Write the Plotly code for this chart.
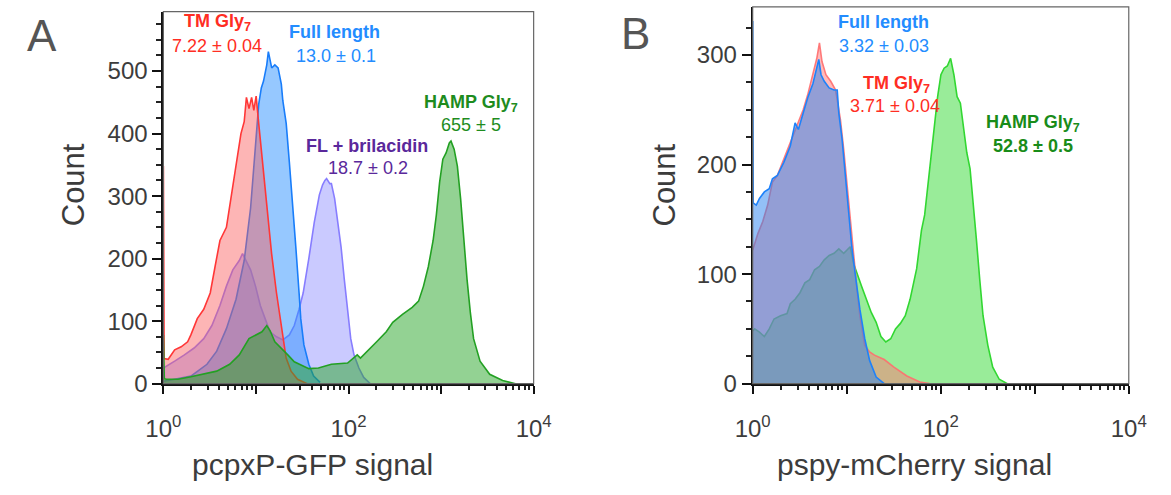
import numpy as np
import plotly.graph_objects as go

W, H = 1171, 495

# ---------------- Panel A (pcpxP-GFP) : log10(signal) and counts ----------------
a_red_log = [0.0, 0.008, 0.052, 0.122, 0.192, 0.262, 0.297, 0.366, 0.436, 0.506, 0.558, 0.611, 0.681,
             0.733, 0.785, 0.838, 0.873, 0.897, 0.925, 0.953, 0.977, 1.002, 1.030, 1.065, 1.117, 1.169,
             1.222, 1.274, 1.326, 1.379, 1.449, 1.553]
a_red_cnt = [348, 40, 39, 54, 59, 67, 78, 104, 119, 145, 187, 229, 250, 302, 354, 400, 419, 458, 440,
             458, 437, 460, 416, 364, 286, 208, 145, 93, 41, 20, 7, 0]

a_blue_log = [0.0, 0.052, 0.297, 0.471, 0.576, 0.681, 0.785, 0.873, 0.942, 0.995, 1.030, 1.058, 1.082,
              1.117, 1.134, 1.170, 1.204, 1.239, 1.274, 1.290, 1.327, 1.361, 1.396, 1.431, 1.466, 1.484,
              1.518, 1.571, 1.623, 1.693]
a_blue_cnt = [4, 5, 12, 31, 52, 88, 135, 197, 281, 375, 447, 473, 484, 510, 531, 505, 510, 505, 479,
              453, 416, 354, 291, 218, 145, 104, 62, 31, 12, 2]

a_purple_log = [0.0, 0.035, 0.122, 0.227, 0.332, 0.436, 0.524, 0.611, 0.681, 0.750, 0.820, 0.855, 0.890,
                0.942, 0.995, 1.047, 1.099, 1.152, 1.222, 1.291, 1.361, 1.414, 1.466, 1.510, 1.571, 1.630,
                1.685, 1.720, 1.745, 1.763, 1.798, 1.815, 1.850, 1.885, 1.920, 1.955, 1.990, 2.024, 2.059,
                2.112, 2.164, 2.234]
a_purple_cnt = [25, 28, 36, 46, 57, 72, 93, 125, 156, 182, 197, 208, 197, 182, 156, 125, 104, 83, 75, 70,
                78, 93, 119, 145, 200, 258, 302, 318, 325, 328, 320, 320, 296, 260, 218, 166, 114, 72,
                46, 25, 10, 0]

a_green_log = [0.0, 0.01, 0.035, 0.157, 0.297, 0.436, 0.576, 0.716, 0.820, 0.925, 0.995, 1.065, 1.117,
               1.152, 1.204, 1.274, 1.344, 1.414, 1.466, 1.571, 1.675, 1.815, 1.990, 2.059, 2.094, 2.129,
               2.199, 2.304, 2.408, 2.478, 2.583, 2.688, 2.757, 2.810, 2.862, 2.914, 2.949, 2.984, 3.019,
               3.054, 3.089, 3.107, 3.141, 3.176, 3.211, 3.246, 3.281, 3.316, 3.351, 3.421, 3.525, 3.665,
               3.804]
a_green_cnt = [78, 8, 7, 7, 11, 15, 20, 31, 46, 72, 78, 83, 93, 85, 67, 57, 46, 35, 31, 24, 25, 31, 33,
               41, 46, 41, 52, 67, 83, 98, 111, 122, 132, 156, 187, 229, 270, 322, 359, 369, 385, 388,
               375, 348, 296, 229, 166, 114, 72, 36, 15, 5, 0]

# ---------------- Panel B (pspy-mCherry) ----------------
b_red_log = [0.0, 0.055, 0.107, 0.159, 0.210, 0.262, 0.331, 0.400, 0.468, 0.537, 0.589, 0.641, 0.682,
             0.710, 0.737, 0.779, 0.830, 0.882, 0.933, 0.968, 1.003, 1.037, 1.072, 1.106, 1.140, 1.192,
             1.244, 1.295, 1.399, 1.502, 1.640, 1.778, 1.880]
b_red_cnt = [122, 137, 148, 163, 184, 190, 205, 220, 235, 250, 265, 282, 297, 311, 294, 282, 276, 268,
             241, 214, 181, 148, 119, 89, 62, 35, 29, 26, 22, 15, 7, 1.5, 0]

b_blue_log = [0.0, 0.005, 0.038, 0.072, 0.124, 0.176, 0.210, 0.262, 0.331, 0.400, 0.451, 0.486, 0.537,
              0.589, 0.641, 0.675, 0.703, 0.727, 0.761, 0.813, 0.865, 0.899, 0.916, 0.951, 0.985, 1.020,
              1.054, 1.089, 1.140, 1.192, 1.244, 1.313, 1.399]
b_blue_cnt = [331, 165, 163, 169, 175, 178, 187, 190, 202, 217, 238, 232, 247, 262, 274, 286, 296, 282,
              276, 270, 268, 268, 247, 223, 190, 154, 125, 101, 68, 41, 21, 6, 0]

b_green_log = [0.0, 0.021, 0.072, 0.124, 0.176, 0.227, 0.296, 0.365, 0.400, 0.451, 0.503, 0.555, 0.606,
               0.658, 0.710, 0.761, 0.813, 0.865, 0.916, 0.968, 1.003, 1.037, 1.072, 1.106, 1.158, 1.209,
               1.261, 1.313, 1.364, 1.416, 1.468, 1.519, 1.571, 1.623, 1.674, 1.744, 1.795, 1.829, 1.864,
               1.916, 1.967, 2.002, 2.036, 2.070, 2.105, 2.140, 2.174, 2.209, 2.243, 2.277, 2.312, 2.346,
               2.380, 2.415, 2.450, 2.501, 2.553, 2.622, 2.708]
b_green_cnt = [48, 50, 47, 43, 50, 59, 62, 64, 73, 77, 83, 92, 95, 104, 107, 113, 117, 119, 123, 119,
               122, 125, 110, 101, 89, 77, 65, 56, 43, 38, 41, 50, 55, 62, 77, 105, 140, 154, 181, 226,
               262, 282, 288, 290, 297, 282, 262, 256, 232, 211, 196, 166, 131, 95, 62, 35, 15, 4, 0]

# ---------------- labels ----------------
x_tick_vals = [1, 10, 100, 1000, 10000]
x_tick_text = ["10<sup>0</sup>", "", "10<sup>2</sup>", "", "10<sup>4</sup>"]
a_xtitle = "pcpxP-GFP signal"
b_xtitle = "pspy-mCherry signal"
ytitle = "Count"

FONT = "Liberation Sans, Arial, Helvetica, sans-serif"
TXT = "#3c3c3c"

fig = go.Figure()


def add(logs, cnts, line, fill, xa, ya, width=1.6):
    fig.add_trace(go.Scatter(
        x=10 ** np.array(logs, dtype=float), y=cnts, mode="lines",
        line=dict(color=line, width=width), fill="tozeroy", fillcolor=fill,
        xaxis=xa, yaxis=ya, hoverinfo="skip", showlegend=False))


# panel A (bottom -> top)
add(a_purple_log, a_purple_cnt, "rgb(135,125,255)", "rgba(150,150,255,0.5)", "x", "y")
add(a_blue_log, a_blue_cnt, "rgb(25,125,250)", "rgba(45,145,255,0.5)", "x", "y")
add(a_red_log, a_red_cnt, "rgb(255,55,55)", "rgba(250,90,90,0.45)", "x", "y")
add(a_green_log, a_green_cnt, "rgb(35,160,35)", "rgba(40,165,40,0.5)", "x", "y")

# panel B (green underneath, then red, then blue)
add(b_green_log, b_green_cnt, "rgb(50,215,50)", "rgba(70,220,70,0.55)", "x2", "y2")
add(b_red_log, b_red_cnt, "rgba(255,110,110,0.9)", "rgba(255,120,120,0.5)", "x2", "y2")
add(b_blue_log, b_blue_cnt, "rgb(30,130,250)", "rgba(40,130,240,0.5)", "x2", "y2")

minor_x = [m * 10 ** k for k in range(4) for m in range(2, 10)]

xcommon = dict(type="log", range=[0, 4], tickvals=x_tick_vals, ticktext=x_tick_text,
               ticks="outside", ticklen=8, tickwidth=2, tickcolor="#111",
               showline=True, linewidth=2, linecolor="#111", showgrid=False, zeroline=False,
               tickfont=dict(family=FONT, size=24, color=TXT), ticklabelstandoff=15,
               minor=dict(tickmode="array", tickvals=minor_x, ticks="outside", ticklen=4,
                          tickwidth=1.5, tickcolor="#222", showgrid=False))
ycommon = dict(ticks="outside", ticklen=9, tickwidth=2, tickcolor="#111", dtick=100,
               showline=True, linewidth=2, linecolor="#111", showgrid=False, zeroline=False,
               tickfont=dict(family=FONT, size=24, color=TXT),
               minor=dict(dtick=25, ticks="outside", ticklen=5, tickwidth=1.5, tickcolor="#222",
                          showgrid=False))

fig.update_layout(
    width=W, height=H, margin=dict(l=0, r=0, t=0, b=0),
    paper_bgcolor="white", plot_bgcolor="white",
    xaxis=dict(domain=[150 / W, 532 / W], anchor="y", **xcommon),
    yaxis=dict(domain=[1 - 394 / H, 1 - 12 / H], anchor="x", range=[0, 595], **ycommon),
    xaxis2=dict(domain=[758 / W, 1146 / W], anchor="y2", **xcommon),
    yaxis2=dict(domain=[1 - 394 / H, 1 - 7 / H], anchor="x2", range=[0, 344], **ycommon),
)

# thin frames
for xa, ya in (("x", "y"), ("x2", "y2")):
    fig.add_shape(type="rect", xref=f"{xa} domain", yref=f"{ya} domain", x0=0, x1=1, y0=0, y1=1,
                  line=dict(color="#666", width=1.2), layer="above")


def ann(text, px, py, size, color, angle=0):
    fig.add_annotation(text=text, x=px / W, y=1 - py / H, xref="paper", yref="paper",
                       showarrow=False, xanchor="center", yanchor="middle", textangle=angle,
                       font=dict(family=FONT, size=size, color=color))


# panel letters and axis titles
ann("A", 25, 36, 44, "#555")
ann("B", 637, 34, 44, "#555")
ann(ytitle, 57, 190, 31, TXT, -90)
ann(ytitle, 667, 190, 31, TXT, -90)
ann(a_xtitle, 304, 477, 30, TXT)
ann(b_xtitle, 925, 477, 30, TXT)

RED, BLUE, PUR, GRN = "rgb(255,45,35)", "rgb(35,140,255)", "rgb(90,40,155)", "rgb(30,140,30)"
ann("<b>TM Gly<sub>7</sub></b>", 206, 23, 18, RED)
ann("7.22 ± 0.04", 205, 47, 18, RED)
ann("<b>Full length</b>", 327, 33, 18, BLUE)
ann("13.0 ± 0.1", 328, 57, 18, BLUE)
ann("<b>FL + brilacidin</b>", 360, 150, 18, PUR)
ann("18.7 ± 0.2", 361, 173, 18, PUR)
ann("<b>HAMP Gly<sub>7</sub></b>", 467, 106, 18, GRN)
ann("655 ± 5", 467, 128, 18, GRN)

ann("<b>Full length</b>", 893, 23, 18, BLUE)
ann("3.32 ± 0.03", 893, 47, 18, BLUE)
ann("<b>TM Gly<sub>7</sub></b>", 906, 87, 18, RED)
ann("3.71 ± 0.04", 905, 109, 18, RED)
ann("<b>HAMP Gly<sub>7</sub></b>", 1047, 127, 18, "rgb(25,140,25)")
ann("<b>52.8 ± 0.5</b>", 1047, 150, 18, "rgb(25,140,25)")

fig.write_html("out.html")
